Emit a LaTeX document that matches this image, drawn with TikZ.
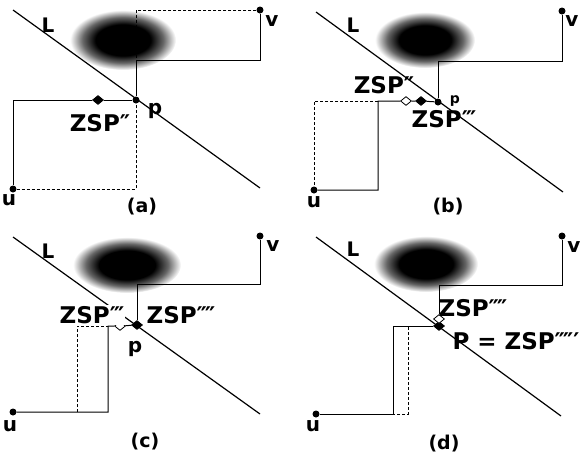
\documentclass[tikz,border=0pt]{standalone}
\usepackage{fontspec}
\setmainfont{DejaVu Sans}
\usetikzlibrary{shapes.geometric}
% dark obstacle, black core fading out
\pgfdeclareradialshading{blobshade}{\pgfpointorigin}{%
  color(0bp)=(black); color(13bp)=(black); color(19bp)=(black!60);
  color(25bp)=(white); color(50bp)=(white)}
\tikzset{
  % end points u, v and p
  dot/.style={circle, fill=black, inner sep=0pt, minimum size=7pt},
  % merging points: filled and open diamonds
  fdia/.style={diamond, draw=black, fill=black, line width=0.8pt,
    inner sep=0pt, minimum width=11pt, minimum height=9pt},
  odia/.style={fdia, fill=white},
  % wires
  route/.style={line width=1pt},
  alt/.style={line width=1pt, dash pattern=on 3pt off 2pt},
  cutline/.style={line width=1.2pt},
  % texts
  lbl/.style={font=\bfseries\fontsize{20}{20}\selectfont, inner sep=0pt},
  zsp/.style={font=\bfseries\fontsize{23}{23}\selectfont, inner sep=0pt},
  sub/.style={font=\bfseries\fontsize{19}{19}\selectfont, inner sep=0pt},
  obst/.style={shading=blobshade}
}

\begin{document}
\begin{tikzpicture}[x=1pt, y=-1pt]
  \useasboundingbox (0,0) rectangle (582,459);

  % (a)
  \begin{scope}
    \shade[obst] (123,40) ellipse [x radius=53pt, y radius=30pt];
    \coordinate (Lsa) at (13,10);
    \coordinate (Lea) at (260,188);
    \draw[cutline] (Lsa) -- (Lea);
    \node[dot]  (va)  at (260,10)  {};
    \node[dot]  (pa)  at (136,100) {};
    \node[dot]  (ua)  at (13,189)  {};
    \node[fdia] (z2a) at (98,100)  {};
    \coordinate (a1) at (260,60);
    \coordinate (a2) at (136,60);
    \coordinate (a3) at (136,10);
    \coordinate (a4) at (13,100);
    \coordinate (a5) at (136,189);
    \draw[route] (va) -- (a1) -- (a2) -- (pa);
    \draw[alt]   (va) -- (a3) -- (a2);
    \draw[route] (pa) -- (z2a) -- (a4) -- (ua);
    \draw[alt]   (ua) -- (a5) -- (pa);
    \node[lbl] (lLa) at (48,25)   {L};
    \node[lbl] (lva) at (272,21)  {v};
    \node[lbl] (lua) at (9,200)   {u};
    \node[lbl] (lpa) at (155,111) {p};
    \node[zsp] (lza) at (100,123) {ZSP″};
    \node[sub] (capa) at (142,207) {(a)};
  \end{scope}

  % (b)
  \begin{scope}[shift={(291,0)}]
    \shade[obst] (134,40) ellipse [x radius=50pt, y radius=28pt];
    \coordinate (Lsb) at (25,12);
    \coordinate (Leb) at (272,192);
    \draw[cutline] (Lsb) -- (Leb);
    \node[dot]  (vb)  at (271,11)  {};
    \node[dot]  (pb)  at (147,102) {};
    \node[dot]  (ub)  at (23,190)  {};
    \node[fdia] (z3b) at (130,101) {};
    \node[odia] (z2b) at (115,101) {};
    \coordinate (b1) at (271,61);
    \coordinate (b2) at (147,61);
    \coordinate (b3) at (87,101);
    \coordinate (b4) at (87,190);
    \coordinate (b5) at (23,101);
    \draw[route] (vb) -- (b1) -- (b2) -- (pb);
    \draw[route] (pb) -- (z3b) -- (z2b) -- (b3) -- (b4) -- (ub);
    \draw[alt]   (b3) -- (b5) -- (ub);
    \node[lbl] (lLb) at (62,25)   {L};
    \node[lbl] (lvb) at (281,21)  {v};
    \node[lbl] (lub) at (23,202)  {u};
    \node[lbl, font=\bfseries\fontsize{14}{14}\selectfont] (lpb) at (164,101) {p};
    \node[zsp] (lz2b) at (93,85)  {ZSP″};
    \node[zsp] (lz3b) at (153,119) {ZSP‴};
    \node[sub] (capb) at (157,207) {(b)};
  \end{scope}

  % (c)
  \begin{scope}[shift={(0,229)}]
    \shade[obst] (127,36) ellipse [x radius=54pt, y radius=28pt];
    \coordinate (Lsc) at (13,8);
    \coordinate (Lec) at (260,185);
    \draw[cutline] (Lsc) -- (Lec);
    \node[dot]  (vc)  at (260,7)   {};
    \node[dot]  (uc)  at (13,183)  {};
    \node[fdia] (pc)  at (137,96)  {};
    \node[odia] (z3c) at (120,97)  {};
    \coordinate (c1) at (260,55);
    \coordinate (c2) at (137,55);
    \coordinate (c3) at (108,97);
    \coordinate (c4) at (108,183);
    \coordinate (c5) at (77,183);
    \coordinate (c6) at (77,97);
    \draw[route] (vc) -- (c1) -- (c2) -- (pc);
    \draw[route] (pc) -- (z3c) -- (c3) -- (c4) -- (uc);
    \draw[alt]   (c5) -- (c6) -- (c3);
    \node[lbl] (lLc) at (48,22)   {L};
    \node[lbl] (lvc) at (273,17)  {v};
    \node[lbl] (luc) at (10,197)  {u};
    \node[lbl] (lpc) at (135,120) {p};
    \node[zsp, fill=white, inner sep=1pt] (lz3c) at (92,86) {ZSP‴};
    \node[zsp] (lz4c) at (181,86) {ZSP⁗};
    \node[sub] (capc) at (145,213) {(c)};
  \end{scope}

  % (d)
  \begin{scope}[shift={(291,229)}]
    \shade[obst] (135,35) ellipse [x radius=52pt, y radius=28pt];
    \coordinate (Lsd) at (25,8);
    \coordinate (Led) at (270,187);
    \draw[cutline] (Lsd) -- (Led);
    \node[dot]  (vd)  at (271,7)   {};
    \node[dot]  (ud)  at (25,185)  {};
    \node[fdia] (pd)  at (148,97)  {};
    \node[odia] (z4d) at (148,90)  {};
    \coordinate (d1) at (271,56);
    \coordinate (d2) at (148,56);
    \coordinate (d3) at (102,97);
    \coordinate (d4) at (102,185);
    \coordinate (d5) at (117,98);
    \coordinate (d6) at (117,185);
    \draw[route] (vd) -- (d1) -- (d2) -- (z4d);
    \draw[route] (pd) -- (d3) -- (d4) -- (ud);
    \draw[alt]   (d5) -- (d6) -- (d4);
    \node[lbl] (lLd) at (62,20)   {L};
    \node[lbl] (lvd) at (283,18)  {v};
    \node[lbl] (lud) at (22,197)  {u};
    \node[zsp] (lz4d) at (182,79) {ZSP⁗};
    \node[zsp] (lz5d) at (225,112) {P = ZSP⁗′};
    \node[sub] (capd) at (153,215) {(d)};
  \end{scope}
\end{tikzpicture}
\end{document}
